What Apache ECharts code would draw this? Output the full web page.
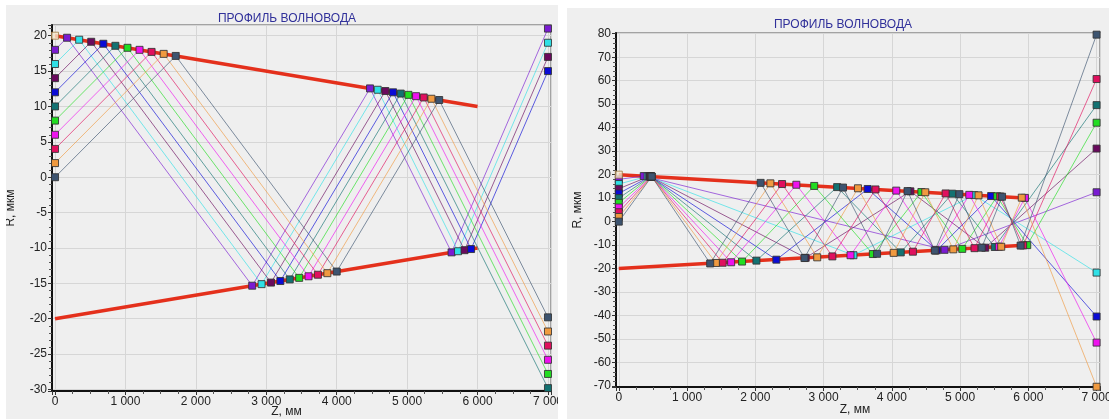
<!DOCTYPE html>
<html><head><meta charset="utf-8">
<script src="https://cdn.jsdelivr.net/npm/echarts@6/dist/echarts.min.js"></script>
<style>
html,body{margin:0;padding:0;background:#fff;width:1109px;height:419px;overflow:hidden;font-family:"Liberation Sans",Arial,sans-serif;}
#p1{position:absolute;left:6px;top:5px;width:552px;height:414px;background:#efefef;}
#p2{position:absolute;left:567px;top:8px;width:542px;height:411px;background:#efefef;}
</style></head><body>
<div id="p1"></div><div id="p2"></div>
<script>
// ---- texts ----
const titleText = 'ПРОФИЛЬ ВОЛНОВОДА';
const xName = 'Z, мм';
const yName = 'R, мкм';

// ---- colours of the rays (in order of the arrays below) ----
const rayColors = ['#7a1bd2','#2fe0e6','#6a0a5e','#0b0bd6','#137272','#22dd22','#ee12ee','#e0105e','#f09a40','#3d5470'];
const startMarkerColor = '#f6e8cc';

// ---- waveguide walls (Z, R) ----
const wallUpper = [[0,20],[6000,10]];
const wallLower = [[0,-20],[6000,-10]];
const startPoint = [[0,20]];

// ---- left chart: rays (Z, R) ----
const leftRayPurple  = [[0,18],[171,19.71],[2800,-15.33],[4473,12.55],[5631,-10.62],[7000,21.0]];
const leftRayCyan    = [[0,16],[343,19.43],[2933,-15.11],[4582,12.36],[5723,-10.46],[7000,19.0]];
const leftRayPlum    = [[0,14],[514,19.14],[3067,-14.89],[4691,12.18],[5815,-10.31],[7000,17.0]];
const leftRayBlue    = [[0,12],[686,18.86],[3200,-14.67],[4800,12.0],[5908,-10.15],[7000,15.0]];
const leftRayTeal    = [[0,10],[857,18.57],[3333,-14.44],[4909,11.82],[7000,-29.8]];
const leftRayGreen   = [[0,8],[1029,18.29],[3467,-14.22],[5018,11.64],[7000,-27.8]];
const leftRayMagenta = [[0,6],[1200,18.0],[3600,-14.0],[5127,11.45],[7000,-25.8]];
const leftRayCrimson = [[0,4],[1371,17.71],[3733,-13.78],[5236,11.27],[7000,-23.8]];
const leftRayOrange  = [[0,2],[1543,17.43],[3867,-13.56],[5345,11.09],[7000,-21.8]];
const leftRaySlate   = [[0,0],[1714,17.14],[4000,-13.33],[5455,10.91],[7000,-19.8]];

// ---- right chart: rays (Z, R) ----
const rightRayPurple  = [[0,18],[366,19.4],[4773,-12.0],[7000,12.5]];
const rightRayCyan    = [[0,16],[423,19.3],[3438,-14.3],[5207,11.3],[7000,-21.7]];
const rightRayPlum    = [[0,14],[446,19.3],[2738,-15.4],[4272,12.9],[5369,-11.1],[7000,31.1]];
const rightRayBlue    = [[0,12],[458,19.2],[2308,-16.2],[3646,13.9],[4660,-12.2],[5455,10.9],[7000,-40.4]];
const rightRayTeal    = [[0,10],[466,19.2],[2016,-16.6],[3199,14.7],[4131,-13.1],[4885,11.9],[5507,-10.8],[7000,49.6]];
const rightRayGreen   = [[0,8],[471,19.2],[1806,-17.0],[2863,15.2],[3722,-13.8],[4433,12.6],[5032,-11.6],[5543,10.8],[5984,-10.0],[7000,42.1]];
const rightRayMagenta = [[0,6],[475,19.2],[1646,-17.3],[2601,15.7],[3395,-14.3],[4065,13.2],[4639,-12.3],[5135,11.4],[5568,-10.7],[5950,10.1],[7000,-51.5]];
const rightRayCrimson = [[0,4],[478,19.2],[1522,-17.5],[2392,16.0],[3129,-14.8],[3761,13.7],[4309,-12.8],[4788,12.0],[5211,-11.3],[5588,10.7],[5924,-10.1],[7000,60.7]];
const rightRayOrange  = [[0,2],[480,19.2],[1422,-17.6],[2221,16.3],[2907,-15.2],[3504,14.2],[4027,-13.3],[4490,12.5],[4901,-11.8],[5270,11.2],[5603,-10.7],[5904,10.2],[7000,-70.3]];
const rightRaySlate   = [[0,0],[482,19.2],[1339,-17.8],[2078,16.5],[2720,-15.5],[3285,14.5],[3784,-13.7],[4230,13.0],[4630,-12.3],[4990,11.7],[5317,-11.1],[5615,10.6],[5887,-10.2],[7000,79.6]];

const leftRays  = [leftRayPurple,leftRayCyan,leftRayPlum,leftRayBlue,leftRayTeal,leftRayGreen,leftRayMagenta,leftRayCrimson,leftRayOrange,leftRaySlate];
const rightRays = [rightRayPurple,rightRayCyan,rightRayPlum,rightRayBlue,rightRayTeal,rightRayGreen,rightRayMagenta,rightRayCrimson,rightRayOrange,rightRaySlate];

function fmtK(v){ if(Math.abs(v%1000)>1e-6) return ''; return String(Math.round(v)).replace(/\B(?=(\d{3})+(?!\d))/g,' '); }
function fmtStep(step){ return v=> (Math.abs(Math.round(v/step)*step - v)<1e-6 ? String(Math.round(v)) : ''); }

function makeOption(cfg){
  const series=[];
  series.push({type:'line',data:wallUpper,symbol:'none',lineStyle:{color:'#e4301c',width:3.5},z:3,silent:true});
  series.push({type:'line',data:wallLower,symbol:'none',lineStyle:{color:'#e4301c',width:3.5},z:3,silent:true});
  cfg.rays.forEach((r,i)=>{
    series.push({type:'line',data:r,symbol:'rect',symbolSize:cfg.sym,showAllSymbol:true,
      lineStyle:{color:rayColors[i],width:1,opacity:0.65},
      itemStyle:{color:rayColors[i],borderColor:'rgba(50,50,50,0.85)',borderWidth:1},z:4});
  });
  series.push({type:'scatter',data:startPoint,symbol:'rect',symbolSize:cfg.sym,itemStyle:{color:startMarkerColor,borderColor:'#a07840',borderWidth:1},z:5});
  return {
    animation:false,
    backgroundColor:'#efefef',
    title:{text:titleText,left:cfg.titleX,top:cfg.titleY,textAlign:'center',textStyle:{color:'#30309a',fontSize:12,fontWeight:'normal',fontFamily:'Liberation Sans'}},
    grid:Object.assign({containLabel:false,outerBoundsMode:'none'},cfg.grid),
    xAxis:{type:'value',min:cfg.xmin,max:cfg.xmax,minInterval:1000,maxInterval:1000,
      name:xName,nameLocation:'middle',nameGap:cfg.xNameGap,nameMoveOverlap:false,
      nameTextStyle:{color:'#222',fontSize:12,fontFamily:'Liberation Sans',padding:cfg.xNamePad},
      axisLine:{show:true,onZero:false,lineStyle:{color:'#111',width:2}},
      axisTick:{show:true,length:4,lineStyle:{color:'#333'}},
      minorTick:{show:true,splitNumber:4,length:3,lineStyle:{color:'#555'}},
      axisLabel:{formatter:fmtK,color:'#222',fontSize:12,margin:5,fontFamily:'Liberation Sans'},
      splitLine:{show:true,lineStyle:{color:'#d6d6d6',width:1}}},
    yAxis:{type:'value',min:cfg.ymin,max:cfg.ymax,minInterval:cfg.ystep,maxInterval:cfg.ystep,
      name:yName,nameLocation:'middle',nameGap:cfg.yNameGap,nameRotate:90,nameMoveOverlap:false,
      nameTextStyle:{color:'#222',fontSize:12,fontFamily:'Liberation Sans'},
      axisLine:{show:true,onZero:false,lineStyle:{color:'#111',width:2}},
      axisTick:{show:true,length:4,lineStyle:{color:'#333'}},
      minorTick:{show:true,splitNumber:5,length:3,lineStyle:{color:'#555'}},
      axisLabel:{formatter:fmtStep(cfg.ystep),color:'#222',fontSize:12,margin:5,fontFamily:'Liberation Sans'},
      splitLine:{show:true,lineStyle:{color:'#d6d6d6',width:1}}},
    graphic:[{type:'rect',shape:{x:cfg.grid.left,y:cfg.grid.top,width:cfg.grid.width,height:cfg.grid.height},style:{fill:'none',stroke:'#8a8a8a',lineWidth:1.5},z:0,silent:true}],
    series
  };
}
const c1=echarts.init(document.getElementById('p1'));
c1.setOption(makeOption({rays:leftRays,sym:7,titleX:276,titleY:3,
  grid:{left:46,top:20,width:499,height:366},xmin:-43,xmax:7043,ymin:-30.21,ymax:21.51,ystep:5,
  xNameGap:15,xNamePad:[0,30,0,0],yNameGap:35}));
const c2=echarts.init(document.getElementById('p2'));
c2.setOption(makeOption({rays:rightRays,sym:7,titleX:271,titleY:6,
  grid:{left:49,top:25,width:484,height:354},xmin:-41,xmax:7050,ymin:-70.4,ymax:80.3,ystep:10,
  xNameGap:17,xNamePad:[0,6,0,0],yNameGap:32}));
</script></body></html>
